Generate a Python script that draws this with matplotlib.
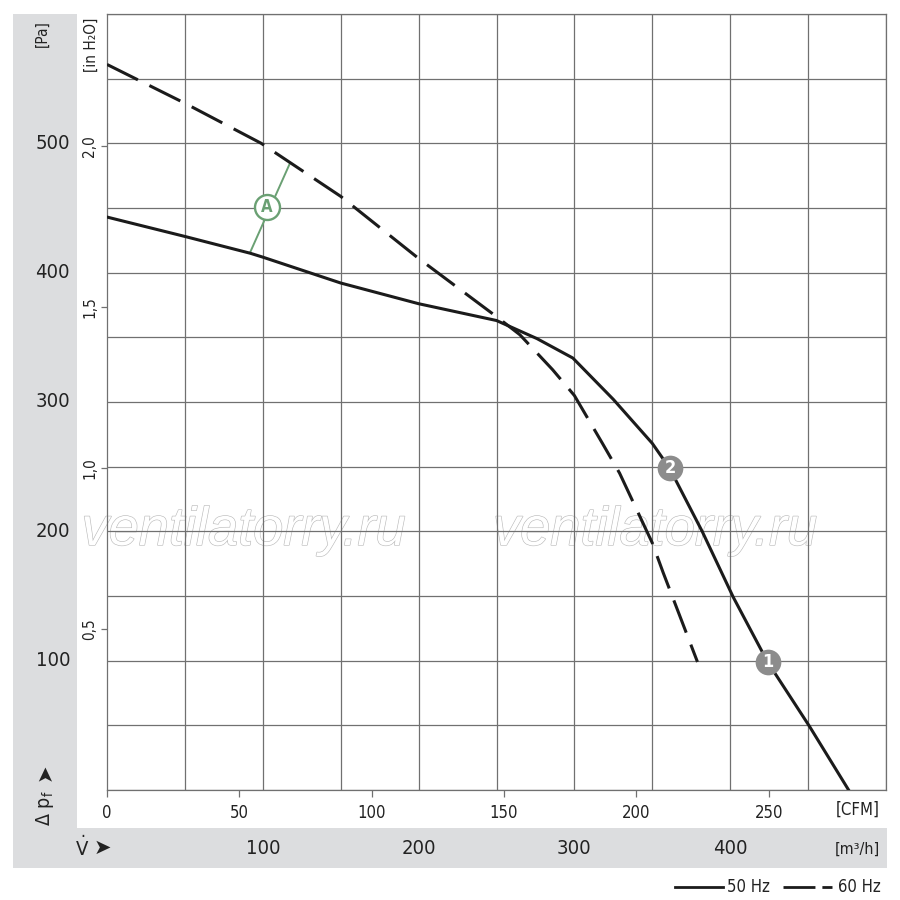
import numpy as np
import matplotlib
matplotlib.use("Agg")
import matplotlib.pyplot as plt
import matplotlib.patheffects as pe
from matplotlib import transforms
from matplotlib.lines import Line2D
from matplotlib.patches import Rectangle

plt.rcParams['font.family'] = ['DejaVu Sans']
plt.rcParams['font.stretch'] = 'condensed'
plt.rcParams['mathtext.fontset'] = 'dejavusans'

# 50 Hz curve (m3/h, Pa)
m3h_50 = [0, 50, 92, 100, 150, 200, 250, 276, 299, 325, 350, 361, 382, 402, 424, 451, 476]
pa_50 = [443, 428, 415, 412, 392, 376, 363, 349, 334, 302, 268, 249, 200, 149, 99, 49, 0]

# 60 Hz curve (m3/h, Pa)
m3h_60 = [0, 50, 99, 150, 200, 250, 265, 286, 300, 318, 329, 350, 357, 379]
pa_60 = [561, 531, 500, 459, 411, 366, 352, 325, 305, 268, 245, 191, 168, 99]

# operating points
op_x = [424.3, 361.4]
op_y = [99, 249]
op_labels = ['1', '2']

# A marker line between the curves
a_x = [91.8, 117.5]
a_y = [415.5, 484.8]
a_circle = (102.5, 450.8)

pa_ticks = [100, 200, 300, 400, 500]
m3h_ticks = [100, 200, 300, 400]
cfm_ticks = [0, 50, 100, 150, 200, 250]
inh2o_ticks = [0.5, 1.0, 1.5, 2.0]
inh2o_labels = ['0,5', '1,0', '1,5', '2,0']

CFM = 1.699     # m3/h per CFM
INH2O = 249.09  # Pa per inch H2O

W = 900
def fx(px):
    return px / W
def fy(py):
    return 1 - py / W

grid_c = '#707070'
line_c = '#1b1b1b'
text_c = '#222222'
green = '#6aa073'
panel_c = '#dcdddf'

fig = plt.figure(figsize=(9, 9), dpi=100)

# gray L-shaped panel
fig.patches.append(Rectangle((fx(13), fy(868)), fx(64), fx(854), transform=fig.transFigure,
                             facecolor=panel_c, edgecolor='none', zorder=0))
fig.patches.append(Rectangle((fx(13), fy(868)), fx(874), fx(40), transform=fig.transFigure,
                             facecolor=panel_c, edgecolor='none', zorder=0))

ax = fig.add_axes([fx(107), fy(790), fx(779), fx(776)])
ax.set_xlim(0, 500)
ax.set_ylim(0, 600)

ax.set_xticks(np.arange(0, 501, 50), minor=True)
ax.set_yticks(np.arange(0, 601, 50), minor=True)
ax.grid(which='minor', color=grid_c, lw=0.9)
ax.tick_params(which='minor', length=0)

ax.set_xticks([c * CFM for c in cfm_ticks], labels=[str(c) for c in cfm_ticks])
ax.tick_params(axis='x', which='major', length=5, width=0.9, color=grid_c, pad=5,
               labelsize=12, labelcolor=text_c)

ax.set_yticks([v * INH2O for v in inh2o_ticks], labels=inh2o_labels)
ax.tick_params(axis='y', which='major', length=4, width=0.9, color=grid_c, pad=3,
               labelsize=11, labelcolor=text_c, labelrotation=90)
for lbl in ax.get_yticklabels():
    lbl.set_va('center')

for s in ax.spines.values():
    s.set_color(grid_c)
    s.set_linewidth(0.9)

# watermark
for wx in [243.5, 655]:
    ax.text(fx(wx), fy(545), 'ventilatorry.ru', transform=fig.transFigure, fontsize=39,
            family='Liberation Sans', style='italic', stretch='normal', color='white',
            ha='center', va='baseline', clip_on=False, zorder=1,
            path_effects=[pe.Stroke(linewidth=0.9, foreground='#bcbcbc'), pe.Normal()])

# curves
ax.plot(m3h_50, pa_50, color=line_c, lw=2.2, zorder=3, solid_joinstyle='round')
ax.plot(m3h_60, pa_60, color=line_c, lw=2.2, dashes=(11.3, 4.2), zorder=3)

# A
ax.plot(a_x, a_y, color=green, lw=1.4, zorder=2.5)
ax.plot(*a_circle, 'o', ms=18, mfc='white', mec=green, mew=1.7, zorder=4)
ax.text(*a_circle, 'A', color=green, fontsize=12, fontweight='bold', ha='center',
        va='center', zorder=5)

# operating points
ax.plot(op_x, op_y, 'o', ms=18.5, mfc='#8c8c8c', mec='none', zorder=4)
for x, y, t in zip(op_x, op_y, op_labels):
    ax.text(x, y, t, color='white', fontsize=13, fontweight='bold', ha='center',
            va='center', zorder=5)

# Pa labels in left panel
ty = transforms.blended_transform_factory(fig.transFigure, ax.transData)
for p in pa_ticks:
    fig.text(fx(70), p, str(p), transform=ty, fontsize=14.5, ha='right', va='center',
             color=text_c)

# m3/h labels in bottom panel
tx = transforms.blended_transform_factory(ax.transData, fig.transFigure)
for m in m3h_ticks:
    fig.text(m, fy(848), str(m), transform=tx, fontsize=14.5, ha='center', va='center',
             color=text_c)

fig.text(fx(42), fy(34), '[Pa]', rotation=90, fontsize=11, ha='center', va='center',
         color=text_c)
fig.text(fx(91), fy(45), '[in H₂O]', rotation=90, fontsize=11, ha='center', va='center',
         color=text_c)
fig.text(fx(858), fy(810), '[CFM]', fontsize=12, ha='center', va='center', color=text_c)
fig.text(fx(857), fy(849), '[m³/h]', fontsize=11.5, ha='center', va='center', color=text_c)

# axis symbols
fig.text(fx(45), fy(808), r'$\Delta\ \mathrm{p_f}$', rotation=90, fontsize=14,
         ha='center', va='center', color=text_c)
fig.text(fx(45), fy(772), '➤', rotation=90, fontsize=15, stretch='normal',
         ha='center', va='center', color=text_c)
fig.text(fx(82), fy(848), r'$\dot{\mathrm{V}}$', fontsize=14.5, ha='center', va='center',
         color=text_c)
fig.text(fx(102), fy(848), '➤', fontsize=15, stretch='normal', ha='center',
         va='center', color=text_c)

# legend
fig.add_artist(Line2D([fx(675), fx(723)], [fy(887), fy(887)], transform=fig.transFigure,
                      color=line_c, lw=2.0))
fig.text(fx(727), fy(887), '50 Hz', fontsize=12, ha='left', va='center', color=text_c)
fig.add_artist(Line2D([fx(783), fx(832)], [fy(887), fy(887)], transform=fig.transFigure,
                      color=line_c, lw=2.0, dashes=(11.5, 2.5)))
fig.text(fx(838), fy(887), '60 Hz', fontsize=12, ha='left', va='center', color=text_c)

fig.savefig('out.png', dpi=100)
